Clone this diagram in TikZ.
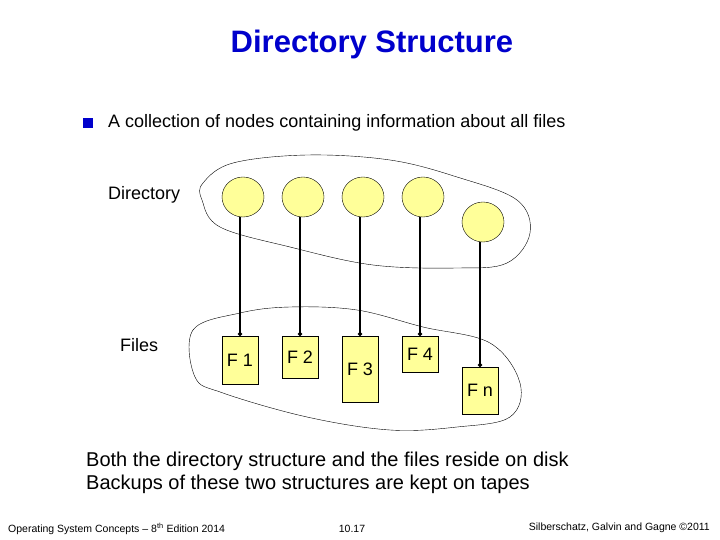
\documentclass[tikz,border=0pt]{standalone}
\usepackage{fontspec}
\setmainfont{Liberation Sans}
\usetikzlibrary{shapes,positioning,arrows.meta}
\definecolor{titleblue}{RGB}{0,0,204}
\definecolor{nodeyellow}{RGB}{255,255,153}
\begin{document}
\begin{tikzpicture}[x=1pt,y=-1pt,
    dir node/.style={ellipse,draw,fill=nodeyellow,minimum width=42pt,minimum height=40pt,inner sep=0pt},
    file node/.style={draw,fill=nodeyellow,minimum width=36pt,inner sep=0pt,font=\fontsize{18}{20}\selectfont},
    link/.style={line width=1.5pt,-{Circle[length=4pt]}},
    txt/.style={anchor=west,inner sep=0pt,font=\fontsize{18}{21}\selectfont}]
\useasboundingbox (0,0) rectangle (720,540);

% title and bullet
\node[font=\fontsize{31}{36}\selectfont\bfseries,text=titleblue] (title) at (372,44) {Directory Structure};
\fill[titleblue] (83,118) rectangle (93,128);
\node[txt] (bullet) at (108,123) {A collection of nodes containing information about all files};

% blobs
\draw plot[smooth cycle,tension=0.6] coordinates {(203,183) (233,163) (307,155) (390,160) (457,177) (517,200) (530,233) (507,263) (457,268) (373,265) (290,247) (220,227) (202,200)};
\draw plot[smooth cycle,tension=0.6] coordinates {(193,330) (240,313) (290,307) (357,310) (423,327) (490,343) (520,383) (510,417) (457,427) (390,430) (307,417) (223,393) (195,377)};

\node[txt] (dirlabel) at (108,195) {Directory};
\node[txt] (fileslabel) at (120,345) {Files};

% directory entries
\node[dir node] (d1) at (243,197) {};
\node[dir node] (d2) at (303,197) {};
\node[dir node] (d3) at (363,197) {};
\node[dir node] (d4) at (423,197) {};
\node[dir node] (d5) at (483,222) {};

% files
\node[file node,minimum height=48pt,anchor=north] (f1) at (240,336) {F 1};
\node[file node,minimum height=42pt,anchor=north] (f2) at (300,336) {F 2};
\node[file node,minimum height=66pt,anchor=north] (f3) at (360,336) {F 3};
\node[file node,minimum height=36pt,anchor=north] (f4) at (420,336) {F 4};
\node[file node,minimum height=47pt,anchor=north] (fn) at (480,367) {F n};

\draw[link] (d1.south -| f1.north) -- (f1.north);
\draw[link] (d2.south -| f2.north) -- (f2.north);
\draw[link] (d3.south -| f3.north) -- (f3.north);
\draw[link] (d4.south -| f4.north) -- (f4.north);
\draw[link] (d5.south -| fn.north) -- (fn.north);

% bottom text
\node[txt,font=\fontsize{20}{23}\selectfont] (disk) at (86,461) {Both the directory structure and the files reside on disk};
\node[txt,font=\fontsize{20}{23}\selectfont] (tapes) at (86,484) {Backups of these two structures are kept on tapes};

% footer
\node[txt,font=\fontsize{10.5}{12}\selectfont] (foot1) at (8,529) {Operating System Concepts -- 8\textsuperscript{th} Edition 2014};
\node[font=\fontsize{10.5}{12}\selectfont] (foot2) at (352,529) {10.17};
\node[anchor=east,inner sep=0pt,font=\fontsize{10.5}{12}\selectfont] (foot3) at (710,528) {Silberschatz, Galvin and Gagne \textcopyright2011};
\end{tikzpicture}
\end{document}
